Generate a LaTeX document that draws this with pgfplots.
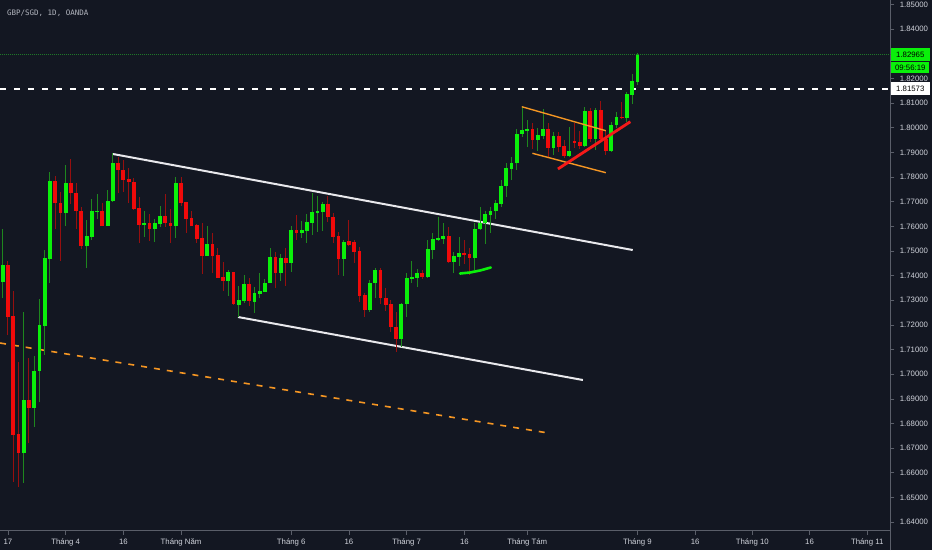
\documentclass[border=0pt]{standalone}
\usepackage{pgfplots}
\pgfplotsset{compat=1.18}
\usepackage{pgfplotstable}
\usepackage{fontspec}
\setmainfont{Liberation Sans}
\newfontfamily\monofont{DejaVu Sans Mono}
\definecolor{bg}{RGB}{19,23,34}
\definecolor{axisc}{RGB}{90,94,105}
\definecolor{labc}{RGB}{209,212,220}
\definecolor{titlec}{RGB}{178,181,190}
\definecolor{candG}{RGB}{10,240,10}
\definecolor{candR}{RGB}{240,10,10}
\definecolor{wickG}{RGB}{30,135,30}
\definecolor{wickR}{RGB}{150,15,15}
\definecolor{orng}{RGB}{245,150,35}
\definecolor{chanw}{RGB}{232,232,236}
\definecolor{dotg}{RGB}{30,120,40}
\definecolor{redl}{RGB}{245,25,25}

% up (green) candles: index, open, high, low, close
\pgfplotstableread{
i o h l c
1 1.73742 1.75892 1.73093 1.74432
5 1.66805 1.72525 1.65588 1.68955
7 1.68630 1.70740 1.67860 1.70132
8 1.70132 1.73053 1.68874 1.71998
9 1.71957 1.75040 1.70781 1.74716
10 1.74675 1.78205 1.73702 1.77840
13 1.76542 1.78489 1.76014 1.77759
17 1.75203 1.76258 1.74310 1.75608
18 1.75568 1.77110 1.75446 1.76623
19 1.76582 1.77312 1.76298 1.76623
21 1.76014 1.77475 1.76014 1.77028
22 1.77028 1.78976 1.76988 1.78570
28 1.76055 1.76623 1.75568 1.76136
30 1.75892 1.76298 1.75365 1.76136
31 1.76095 1.76826 1.75974 1.76420
34 1.76014 1.78002 1.75527 1.77759
40 1.74797 1.76014 1.74797 1.75284
44 1.73783 1.74229 1.73174 1.74148
46 1.72809 1.73580 1.72322 1.73012
47 1.72971 1.74026 1.72890 1.73661
49 1.72931 1.73539 1.72485 1.73296
50 1.73255 1.74107 1.73093 1.73377
51 1.73337 1.73864 1.73337 1.73702
52 1.73702 1.75122 1.73702 1.74757
54 1.74107 1.74878 1.73783 1.74716
56 1.74513 1.76014 1.74148 1.75852
58 1.75730 1.76217 1.75527 1.75852
59 1.75811 1.76501 1.75324 1.76176
60 1.76136 1.77353 1.75649 1.76582
61 1.76542 1.77231 1.75771 1.76623
62 1.76582 1.76988 1.75811 1.76907
66 1.74675 1.75446 1.73986 1.75365
71 1.72606 1.73823 1.72525 1.73702
72 1.73702 1.74310 1.73093 1.74229
77 1.71430 1.72890 1.71105 1.72850
78 1.72850 1.74107 1.72322 1.73905
79 1.73864 1.74594 1.73702 1.73945
80 1.73905 1.74270 1.73539 1.74107
82 1.73945 1.75446 1.73905 1.75081
83 1.75040 1.75730 1.74675 1.75487
84 1.75446 1.76379 1.75406 1.75527
85 1.75487 1.76136 1.75284 1.75608
87 1.74554 1.74959 1.74107 1.74797
88 1.74757 1.75568 1.74391 1.74919
91 1.74716 1.76136 1.74229 1.75892
92 1.75892 1.76785 1.75852 1.76136
93 1.76136 1.76623 1.75284 1.76501
94 1.76460 1.76785 1.75730 1.76623
95 1.76623 1.77069 1.76298 1.76947
96 1.76907 1.77880 1.76785 1.77637
97 1.77637 1.78570 1.77191 1.78367
98 1.78327 1.78814 1.77880 1.78570
99 1.78570 1.79949 1.78286 1.79747
100 1.79747 1.80842 1.79625 1.79909
101 1.79868 1.80315 1.79219 1.79949
103 1.79503 1.79990 1.79057 1.79706
104 1.79665 1.80761 1.79544 1.79949
106 1.79179 1.79828 1.78895 1.79665
109 1.78854 1.80031 1.78814 1.79057
112 1.79260 1.80842 1.79219 1.80680
114 1.79544 1.80801 1.79097 1.80720
117 1.79057 1.80233 1.79016 1.80112
118 1.80112 1.80639 1.79990 1.80436
120 1.80396 1.81451 1.80233 1.81369
121 1.81329 1.82181 1.80964 1.81897
122 1.81856 1.83033 1.81735 1.82965
}\up

% down (red) candles: index, open, high, low, close
\pgfplotstableread{
i o h l c
2 1.74432 1.74594 1.71592 1.72322
3 1.72363 1.73377 1.65628 1.67535
4 1.67576 1.70497 1.65425 1.66805
6 1.68955 1.70659 1.67210 1.68630
11 1.77840 1.78043 1.75892 1.76947
12 1.76947 1.77394 1.74594 1.76542
14 1.77759 1.78732 1.76907 1.77353
15 1.77353 1.77759 1.75892 1.76623
16 1.76623 1.76785 1.75081 1.75203
20 1.76623 1.76947 1.76014 1.76014
23 1.78570 1.78814 1.77353 1.78286
24 1.78286 1.78692 1.77394 1.77880
25 1.77921 1.78367 1.76947 1.77799
26 1.77799 1.77962 1.76663 1.76704
27 1.76744 1.77191 1.75324 1.76055
29 1.76136 1.76501 1.75406 1.75892
32 1.76420 1.77312 1.75974 1.76136
33 1.76136 1.76704 1.75324 1.76014
35 1.77759 1.78002 1.76826 1.76947
36 1.76988 1.76988 1.75730 1.76298
37 1.76339 1.76623 1.76014 1.76014
38 1.76055 1.76095 1.75324 1.75487
39 1.75527 1.76136 1.74067 1.74797
41 1.75284 1.75730 1.74107 1.74797
42 1.74838 1.75122 1.73905 1.73905
43 1.73945 1.74554 1.73377 1.73783
45 1.74148 1.74148 1.72809 1.72850
48 1.73661 1.73905 1.72769 1.72971
53 1.74757 1.74959 1.73499 1.74107
55 1.74716 1.75122 1.73580 1.74513
57 1.75852 1.76460 1.75446 1.75730
63 1.76907 1.77231 1.76176 1.76379
64 1.76379 1.76542 1.75324 1.75568
65 1.75608 1.75771 1.74026 1.74675
67 1.75406 1.76258 1.75203 1.75243
68 1.75365 1.75446 1.74513 1.74959
69 1.75000 1.75162 1.72931 1.73174
70 1.73215 1.73296 1.72322 1.72606
73 1.74229 1.74310 1.72850 1.73093
74 1.73093 1.73499 1.72566 1.72809
75 1.72850 1.73012 1.71714 1.71917
76 1.71917 1.72525 1.70902 1.71430
81 1.74107 1.74229 1.73864 1.73945
86 1.75608 1.75974 1.74513 1.74554
89 1.74919 1.75446 1.74473 1.74838
90 1.74878 1.75122 1.74026 1.74716
102 1.79949 1.80193 1.79138 1.79503
105 1.79949 1.80193 1.78814 1.79179
107 1.79665 1.79828 1.79016 1.79219
108 1.79260 1.79503 1.78773 1.78854
110 1.79463 1.80193 1.79179 1.79381
111 1.79422 1.79868 1.79138 1.79260
113 1.80680 1.80801 1.79422 1.79544
115 1.80720 1.81085 1.79422 1.79544
116 1.79544 1.79909 1.78895 1.79057
119 1.80436 1.81045 1.80355 1.80396
}\down

\begin{document}
\begin{tikzpicture}
\fill[bg] (0,0) rectangle (932pt,550pt);
\begin{axis}[
  at={(0pt,19.5pt)}, anchor=south west,
  scale only axis, width=890.3pt, height=530.5pt,
  xmin=0.485, xmax=170.2, ymin=1.63661, ymax=1.85183,
  axis x line*=bottom, axis y line*=right,
  axis line style={-, draw=axisc, line width=0.8pt},
  tick align=outside, major tick length=4pt,
  tick style={draw=axisc, line width=0.8pt},
  xtick={2,13,24,35,56,67,78,89,101,122,133,143.9,154.8,165.8},
  xticklabels={17,Tháng 4,16,Tháng Năm,Tháng 6,16,Tháng 7,16,Tháng Tám,Tháng 9,16,Tháng 10,16,Tháng 11},
  ytick={1.64,1.65,1.66,1.67,1.68,1.69,1.70,1.71,1.72,1.73,1.74,1.75,1.76,1.77,1.78,1.79,1.80,1.81,1.82,1.84,1.85},
  yticklabels={1.64000,1.65000,1.66000,1.67000,1.68000,1.69000,1.70000,1.71000,1.72000,1.73000,1.74000,1.75000,1.76000,1.77000,1.78000,1.79000,1.80000,1.81000,1.82000,1.84000,1.85000},
  ticklabel style={font=\fontsize{7.8}{9}\selectfont, text=labc},
  xticklabel style={anchor=base, yshift=-9.5pt},
  yticklabel style={anchor=west, xshift=2pt},
  clip mode=individual,
]
% horizontal price lines
\addplot[dotg, line width=1pt, dash pattern=on 1pt off 1pt] coordinates {(0.485,1.82965) (170.2,1.82965)};
\addplot[white, line width=2pt, dash pattern=on 6pt off 8pt] coordinates {(0.485,1.81573) (170.2,1.81573)};
% orange dashed trend line
\addplot[orng, line width=1.6pt, dash pattern=on 6pt off 7pt] coordinates {(0.485,1.71267) (104.97,1.67616)};
% white channel
\addplot[chanw, line width=2pt] coordinates {(22.03,1.78935) (121.1,1.75040)};
\addplot[chanw, line width=2pt] coordinates {(45.86,1.72322) (111.6,1.69766)};
% wicks
\addplot[draw=none, forget plot, error bars/.cd, y dir=plus, y explicit, error mark=none,
  error bar style={draw=wickG, line width=1pt}]
  table[x=i, y=l, y error expr=\thisrow{h}-\thisrow{l}] {\up};
\addplot[draw=none, forget plot, error bars/.cd, y dir=plus, y explicit, error mark=none,
  error bar style={draw=wickR, line width=1pt}]
  table[x=i, y=l, y error expr=\thisrow{h}-\thisrow{l}] {\down};
% bodies
\addplot[draw=none, forget plot, error bars/.cd, y dir=plus, y explicit, error mark=none,
  error bar style={draw=candG, line width=3.8pt}]
  table[x=i, y=o, y error expr=\thisrow{c}-\thisrow{o}] {\up};
\addplot[draw=none, forget plot, error bars/.cd, y dir=plus, y explicit, error mark=none,
  error bar style={draw=candR, line width=3.8pt}]
  table[x=i, y=c, y error expr=\thisrow{o}-\thisrow{c}] {\down};
% green support stroke
\addplot[candG, line width=2.6pt, line cap=round] coordinates {(88.19,1.74087) (90.10,1.74128) (92.0,1.74209) (94.04,1.74331)};
% orange flag
\addplot[orng, line width=1.4pt] coordinates {(99.95,1.80854) (115.97,1.79880)};
\addplot[orng, line width=1.4pt] coordinates {(101.97,1.78964) (115.97,1.78177)};
% red rising line
\addplot[redl, line width=2.8pt] coordinates {(106.84,1.78327) (120.64,1.80245)};
% labels
\node[anchor=west, font=\monofont\fontsize{7.5}{9}\selectfont, text=titlec] at (rel axis cs:0.004,0.9755) {GBP/SGD, 1D, OANDA};
\node[anchor=west, fill=candG, text=black, inner sep=0pt, minimum width=39.5pt, minimum height=12.5pt, font=\fontsize{7.8}{9}\selectfont] at (axis cs:170.2,1.82965) {1.82965};
\node[anchor=west, fill=candG, text=black, inner sep=0pt, minimum width=38pt, minimum height=11.5pt, font=\fontsize{7.8}{9}\selectfont] at (axis cs:170.35,1.82436) {09:56:19};
\node[anchor=west, fill=white, text=black, inner sep=0pt, minimum width=39.5pt, minimum height=13pt, font=\fontsize{7.8}{9}\selectfont] at (axis cs:170.2,1.81573) {1.81573};
\end{axis}
\draw[axisc, line width=0.8pt] (890.3pt,0pt) -- (890.3pt,19.5pt);
\pgfresetboundingbox
\path[use as bounding box] (0,0) rectangle (932pt,550pt);
\end{tikzpicture}
\end{document}
